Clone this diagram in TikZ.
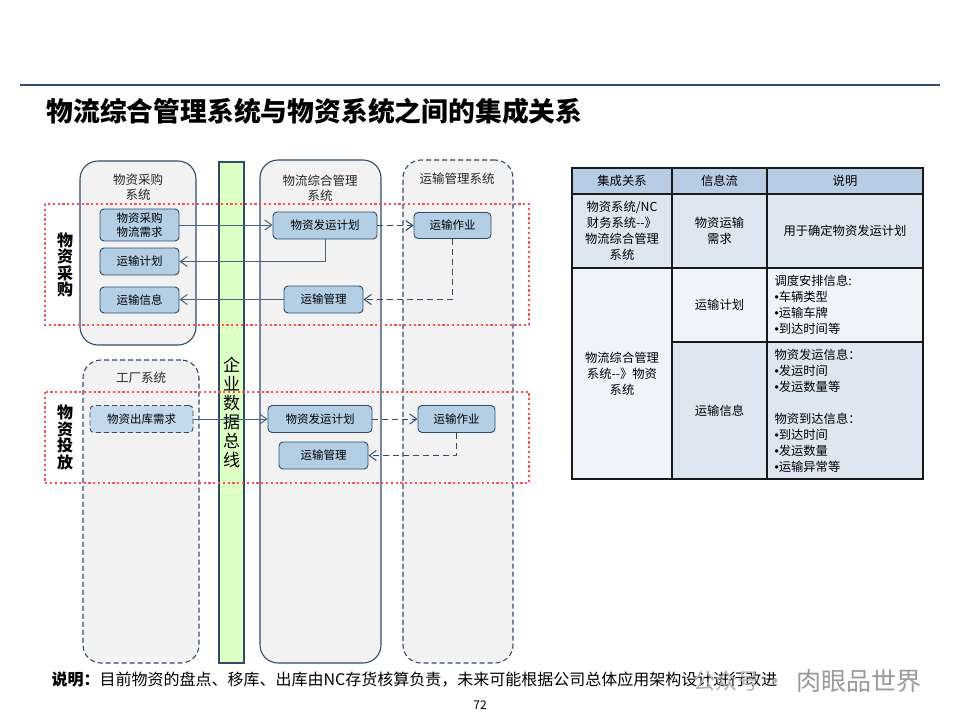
\documentclass[tikz,border=0pt]{standalone}
\usepackage{fontspec}
\setmainfont{Noto Sans CJK SC}
\newfontfamily\bulfont{Liberation Sans}
\usetikzlibrary{arrows.meta}

\definecolor{linecol}{RGB}{47,76,108}
\definecolor{arrcol}{RGB}{70,100,130}
\definecolor{colfill}{RGB}{242,242,242}
\definecolor{busfill}{RGB}{221,255,196}
\definecolor{itemfill}{RGB}{180,206,228}
\definecolor{itemfillb}{RGB}{197,217,236}
\definecolor{regred}{RGB}{255,80,80}
\definecolor{headfill}{RGB}{184,204,228}
\definecolor{rowdark}{RGB}{221,231,241}
\definecolor{rowlight}{RGB}{240,244,250}

\newcommand\bul{{\bulfont •}}

\begin{document}
\begin{tikzpicture}[
  x=1pt, y=-1pt,
  font=\fontsize{12}{15}\selectfont,
  colbox/.style={draw=linecol, line width=1.1pt, fill=colfill, rounded corners=18pt, inner sep=0pt},
  colboxdash/.style={colbox, dash pattern=on 5pt off 3pt},
  busbox/.style={draw=linecol, line width=1.1pt, fill=busfill, inner sep=0pt},
  coltitle/.style={align=center, text=black!85, font=\fontsize{12.5}{15.5}\selectfont},
  itembox/.style={draw=linecol, line width=0.9pt, fill=itemfill, rounded corners=4pt, align=center,
    inner sep=0pt, font=\fontsize{11.5}{14}\selectfont},
  itemboxdash/.style={itembox, fill=itemfillb, dash pattern=on 5pt off 3pt},
  regionbox/.style={draw=regred, line width=2.2pt, dash pattern=on 2.2pt off 2.6pt},
  sidelabel/.style={align=center, font=\fontsize{16}{16.5}\selectfont\bfseries},
  arrow/.style={-{Straight Barb[length=7pt, width=10pt]}, draw=arrcol, line width=1pt},
  dashedarrow/.style={arrow, draw=linecol, dash pattern=on 6pt off 4pt},
  cell/.style={draw=black!90, line width=1.2pt, inner sep=3pt, align=center,
    font=\fontsize{12.3}{16}\selectfont},
  headcell/.style={cell, fill=headfill, minimum height=26pt},
]
\useasboundingbox (0,0) rectangle (960,720);

% ===== Header =====
\coordinate (ruleL) at (20,85);
\coordinate (ruleR) at (940,85);
\draw[linecol, line width=1.2pt] (ruleL) -- (ruleR);
\node[anchor=west, font=\fontsize{26.8}{30}\selectfont\bfseries] (title) at (43,111)
  {物流综合管理系统与物资系统之间的集成关系};

% ===== Columns and bus =====
\node[colbox, minimum width=116pt, minimum height=184pt] (purcol) at (138,253) {};
\node[colboxdash, minimum width=116pt, minimum height=303pt] (faccol) at (141,511.5) {};
\node[busbox, minimum width=25pt, minimum height=501pt] (bus) at (231.5,412.5) {};
\node[colbox, minimum width=121pt, minimum height=503pt] (logcol) at (320.5,411.5) {};
\node[colboxdash, minimum width=110pt, minimum height=503pt] (trncol) at (458,411.5) {};

\node[coltitle] (purtitle) at (138,187) {物资采购\\系统};
\node[coltitle] (factitle) at (141,378) {工厂系统};
\node[coltitle] (logtitle) at (320,188) {物流综合管理\\系统};
\node[coltitle] (trntitle) at (457,179) {运输管理系统};
\node[align=center, font=\fontsize{17}{19}\selectfont] (bustext) at (bus.center) {企\\业\\数\\据\\总\\线};

% ===== Regions =====
\draw[regionbox] (45,204) rectangle (529,325);
\draw[regionbox] (45,392) rectangle (529,483);
\node[sidelabel] (purlabel) at (65,265) {物\\资\\采\\购};
\node[sidelabel] (putlabel) at (65,437.5) {物\\资\\投\\放};

% ===== Purchase flow =====
\node[itembox, minimum width=79pt, minimum height=32pt] (pdemand) at (139.5,225) {物资采购\\物流需求};
\node[itembox, minimum width=79pt, minimum height=27pt] (pplan) at (139.5,261.5) {运输计划};
\node[itembox, minimum width=79pt, minimum height=26pt] (pinfo) at (139.5,300) {运输信息};
\node[itembox, minimum width=104pt, minimum height=27pt] (lplan1) at (325,225.5) {物资发运计划};
\node[itembox, minimum width=79pt, minimum height=27pt] (lmgmt1) at (323.5,299.5) {运输管理};
\node[itembox, minimum width=77pt, minimum height=26pt] (tjob1) at (452.5,225.5) {运输作业};

\draw[arrow] (pdemand.east) -- (pdemand.east -| lplan1.west);
\draw[arrow] (lplan1.south) |- (pplan.east);
\draw[arrow] (lmgmt1.west) -- (lmgmt1.west -| pinfo.east);
\draw[dashedarrow] (lplan1.east) -- (tjob1.west);
\draw[dashedarrow] (tjob1.south) |- (lmgmt1.east);

% ===== Issue flow =====
\node[itemboxdash, minimum width=103pt, minimum height=27pt] (fdemand) at (141.5,419) {物资出库需求};
\node[itembox, minimum width=104pt, minimum height=27pt] (lplan2) at (320,419) {物资发运计划};
\node[itembox, minimum width=89pt, minimum height=27pt] (lmgmt2) at (323.5,455.5) {运输管理};
\node[itembox, minimum width=77pt, minimum height=27pt] (tjob2) at (456.5,419) {运输作业};

\draw[arrow] (fdemand.east) -- (lplan2.west);
\draw[dashedarrow] (lplan2.east) -- (tjob2.west);
\draw[dashedarrow] (tjob2.south) |- (lmgmt2.east);

% ===== Table =====
\node[headcell, minimum width=100pt] (h1) at (622,181) {集成关系};
\node[headcell, minimum width=95pt] (h2) at (719.5,181) {信息流};
\node[headcell, minimum width=156pt] (h3) at (845,181) {说明};

\node[cell, fill=rowdark, minimum width=100pt, minimum height=74pt] (r1c1) at (622,231)
  {物资系统/NC\\财务系统-{}-》\\物流综合管理\\系统};
\node[cell, fill=rowdark, minimum width=95pt, minimum height=74pt] (r1c2) at (719.5,231)
  {物资运输\\需求};
\node[cell, fill=rowdark, minimum width=156pt, minimum height=74pt] (r1c3) at (845,231)
  {用于确定物资发运计划};

\node[cell, fill=rowlight, minimum width=100pt, minimum height=211pt] (r2c1) at (622,373.5)
  {物流综合管理\\系统-{}-》物资\\系统};
\node[cell, fill=rowlight, minimum width=95pt, minimum height=74pt] (r2c2) at (719.5,305)
  {运输计划};
\node[cell, fill=rowlight, minimum width=156pt, minimum height=74pt, text width=141pt, align=left]
  (r2c3) at (845,305) {调度安排信息:\\\bul 车辆类型\\\bul 运输车牌\\\bul 到达时间等};
\node[cell, fill=rowdark, minimum width=95pt, minimum height=137pt] (r3c2) at (719.5,410.5)
  {运输信息};
\node[cell, fill=rowdark, minimum width=156pt, minimum height=137pt, text width=141pt, align=left]
  (r3c3) at (845,410.5)
  {物资发运信息：\\\bul 发运时间\\\bul 发运数量等\\[16pt]物资到达信息：\\\bul 到达时间\\\bul 发运数量\\\bul 运输异常等};

% ===== Footer =====
\node[anchor=west, font=\fontsize{16}{19}\selectfont] (note) at (48,680)
  {\textbf{说明：}目前物资的盘点、移库、出库由NC存货核算负责，未来可能根据公司总体应用架构设计进行改进};
\node[font=\fontsize{12}{14}\selectfont] (pageno) at (480,705) {72};
\node[anchor=west, text=black!30, font=\fontsize{22}{26}\selectfont] (wmA) at (690,681) {公众号 ·};
\node[anchor=west, text=black!40, font=\fontsize{25}{28}\selectfont] (wmB) at (793,681) {肉眼品世界};
\end{tikzpicture}
\end{document}
